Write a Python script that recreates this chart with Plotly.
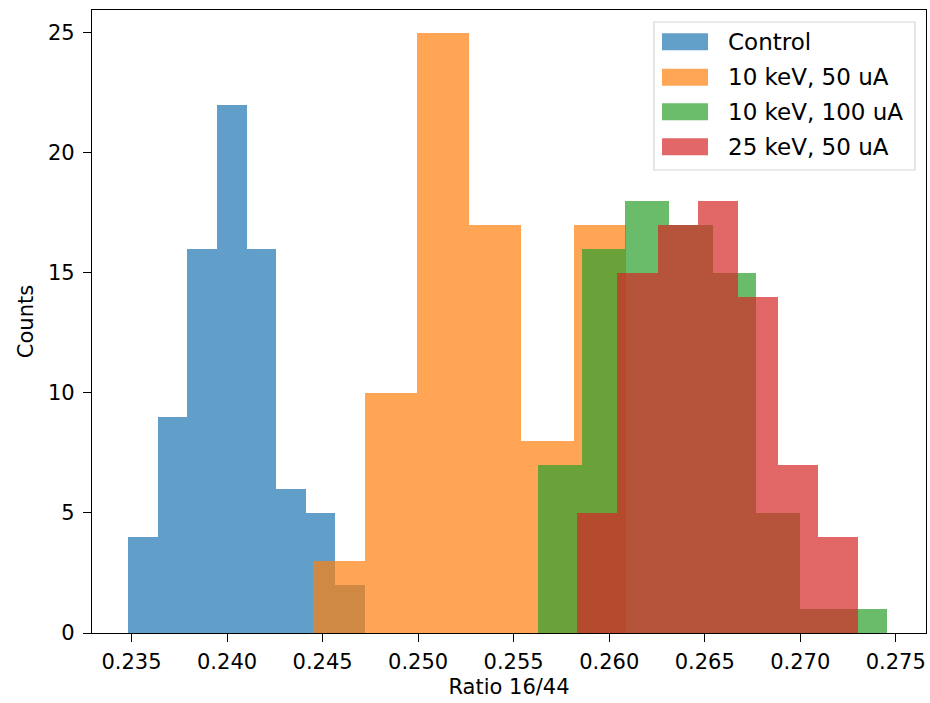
import plotly.graph_objects as go

# ---- data ----
series_names = ["Control", "10 keV, 50 uA", "10 keV, 100 uA", "25 keV, 50 uA"]
series_colors = ["#1f77b4", "#ff7f0e", "#2ca02c", "#d62728"]

control_edges = [0.23482, 0.23637, 0.23792, 0.23947, 0.24102, 0.24257, 0.24412, 0.24567, 0.24722]
control_counts = [4, 9, 16, 22, 16, 6, 5, 2]

kev10_50_edges = [0.24450, 0.24723, 0.24996, 0.25268, 0.25541, 0.25814, 0.26087]
kev10_50_counts = [3, 10, 25, 17, 8, 17]

kev10_100_edges = [0.25628, 0.25857, 0.26085, 0.26313, 0.26542, 0.26770, 0.26999, 0.27227, 0.27455]
kev10_100_counts = [7, 16, 18, 17, 15, 5, 1, 1]

kev25_50_edges = [0.25833, 0.26043, 0.26253, 0.26463, 0.26674, 0.26884, 0.27094, 0.27304]
kev25_50_counts = [5, 15, 17, 18, 14, 7, 4]

x_ticks = [0.235, 0.240, 0.245, 0.250, 0.255, 0.260, 0.265, 0.270, 0.275]
y_ticks = [0, 5, 10, 15, 20, 25]
x_label = "Ratio 16/44"
y_label = "Counts"

all_edges = [control_edges, kev10_50_edges, kev10_100_edges, kev25_50_edges]
all_counts = [control_counts, kev10_50_counts, kev10_100_counts, kev25_50_counts]

FONT = "DejaVu Sans"
FS = 21
LFS = 23
W, H = 930, 703
ML, MR, MT, MB = 92, 4, 10, 70

fig = go.Figure()
for name, color, edges, counts in zip(series_names, series_colors, all_edges, all_counts):
    centers = [(a + b) / 2 for a, b in zip(edges[:-1], edges[1:])]
    widths = [b - a for a, b in zip(edges[:-1], edges[1:])]
    fig.add_trace(go.Bar(
        x=centers, y=counts, width=widths, name=name,
        marker=dict(color=color, line=dict(width=0)),
        opacity=0.7, showlegend=False,
    ))

axis_common = dict(
    showline=True, linecolor="black", linewidth=1.3, mirror=True,
    ticks="outside", ticklen=8, tickwidth=1.3, tickcolor="black",
    showgrid=False, zeroline=False, automargin=False,
    tickfont=dict(family=FONT, size=FS, color="black"),
)

fig.update_layout(
    width=W, height=H,
    margin=dict(l=ML, r=MR, t=MT, b=MB),
    plot_bgcolor="white", paper_bgcolor="white",
    barmode="overlay", bargap=0,
    font=dict(family=FONT, size=FS, color="black"),
    xaxis=dict(range=[0.232932, 0.276581], tickvals=x_ticks, tickformat=".3f",
               ticklabelstandoff=2,
               title=dict(text=x_label, font=dict(family=FONT, size=FS, color="black"), standoff=5),
               **axis_common),
    yaxis=dict(range=[0, 25.95], tickvals=y_ticks, ticklabelstandoff=4,
               title=dict(text=y_label, font=dict(family=FONT, size=FS, color="black"), standoff=8),
               **axis_common),
)

# ---- legend box (drawn like the reference's frame) ----
pw = W - ML - MR
ph = H - MT - MB

def px_x(p):
    return (p - ML) / pw

def px_y(p):
    return (H - MB - p) / ph

fig.add_shape(type="rect", xref="paper", yref="paper",
              x0=px_x(654), x1=px_x(915), y0=px_y(170), y1=px_y(22),
              line=dict(color="rgb(214,214,214)", width=1.2),
              fillcolor="rgba(255,255,255,0.8)", layer="above")

row_centers = [41.7, 77.3, 111.7, 146.7]
for name, color, rc in zip(series_names, series_colors, row_centers):
    fig.add_shape(type="rect", xref="paper", yref="paper",
                  x0=px_x(662), x1=px_x(708), y0=px_y(rc + 8.5), y1=px_y(rc - 8.5),
                  line=dict(width=0), fillcolor=color, opacity=0.7, layer="above")
    fig.add_annotation(xref="paper", yref="paper", x=px_x(726), y=px_y(rc),
                       text=name, showarrow=False, xanchor="left", yanchor="middle",
                       font=dict(family=FONT, size=LFS, color="black"))

fig.write_html("out.html",
               config={"displayModeBar": False},
               post_script="document.body.style.margin='0';document.body.style.overflow='hidden';")
